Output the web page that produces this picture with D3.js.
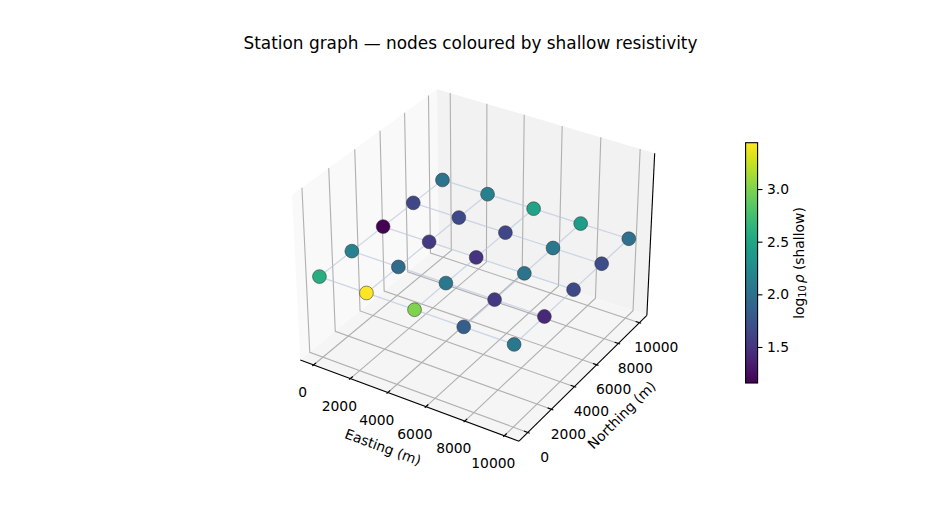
<!DOCTYPE html>
<html>
<head>
<meta charset="utf-8">
<script src="https://cdn.jsdelivr.net/npm/d3@7/dist/d3.min.js"></script>
<style>
  html, body { margin: 0; padding: 0; background: #fff; }
  svg { display: block; }
  text { font-family: "DejaVu Sans", sans-serif; fill: #000; }
</style>
</head>
<body>
<svg id="chart" width="950" height="520"></svg>
<script>
// Station positions along each horizontal direction (m)
const eastings = [0, 2500, 5000, 7500, 10000];
const northings = [0, 2500, 5000, 7500, 10000];
// log10 resistivity per station: one row per northing, one column per easting
const logRho = [
  [2.60, 3.44, 3.00, 1.83, 2.07],
  [2.16, 1.96, 2.07, 1.55, 1.42],
  [1.16, 1.55, 1.50, 2.03, 1.66],
  [1.64, 1.66, 1.64, 2.07, 1.68],
  [2.03, 2.14, 2.48, 2.42, 2.00]
];
const xTicks = [0, 2000, 4000, 6000, 8000, 10000];
const yTicks = [0, 2000, 4000, 6000, 8000, 10000];
const colorTicks = [1.5, 2.0, 2.5, 3.0];
const colorDomain = [1.158, 3.44];
const titleText = "Station graph \u2014 nodes coloured by shallow resistivity";

// Axis limits carry the 5% margin plus the usual 3D padding
const xLim = [-729, 10729];
const yLim = [-729, 10729];
const zLim = [-0.055, 0.055];

// Perspective camera
const elev = 32 * Math.PI / 180, azim = -58 * Math.PI / 180, dist = 10;
const box = [1.143, 1.143, 0.857];
const n = [Math.cos(elev) * Math.cos(azim), Math.cos(elev) * Math.sin(azim), Math.sin(elev)];
const uLen = Math.hypot(n[0], n[1]);
const u = [-n[1] / uLen, n[0] / uLen, 0];
const v = [
  n[1] * u[2] - n[2] * u[1],
  n[2] * u[0] - n[0] * u[2],
  n[0] * u[1] - n[1] * u[0]
];
const dot = (a, b) => a[0] * b[0] + a[1] * b[1] + a[2] * b[2];

const tx = d3.scaleLinear().domain(xLim).range([-box[0] / 2, box[0] / 2]);
const ty = d3.scaleLinear().domain(yLim).range([-box[1] / 2, box[1] / 2]);
const tz = d3.scaleLinear().domain(zLim).range([-box[2] / 2, box[2] / 2]);
const screenX = d3.scaleLinear().domain([-0.1, 0.1]).range([251.2, 701.2]);
const screenY = d3.scaleLinear().domain([-0.1, 0.1]).range([482.4, 32.4]);

function project(x, y, z) {
  const p = [tx(x), ty(y), tz(z)];
  const f = 1 / (dist - dot(n, p));
  return [screenX(dot(u, p) * f), screenY(dot(v, p) * f)];
}

const line3 = d3.line();
const svg = d3.select("#chart");
const viridis = d3.scaleSequential(d3.interpolateViridis).domain(colorDomain);
const labelSize = 13.89, lineWidth = 1.11;

// Back panes and floor
const [x0, x1] = xLim, [y0, y1] = yLim, [z0, z1] = zLim;
const panes = [
  { pts: [[x0, y0, z0], [x0, y1, z0], [x0, y1, z1], [x0, y0, z1]], fill: "#f9f9f9" },
  { pts: [[x0, y1, z0], [x1, y1, z0], [x1, y1, z1], [x0, y1, z1]], fill: "#f2f2f2" },
  { pts: [[x0, y0, z0], [x1, y0, z0], [x1, y1, z0], [x0, y1, z0]], fill: "#f5f5f5" }
];
svg.append("g").selectAll("path").data(panes).join("path")
  .attr("d", d => line3(d.pts.map(p => project(...p))) + "Z")
  .attr("fill", d => d.fill);

// Grid lines: each tick runs across the floor and up its back wall
const grid = svg.append("g").attr("fill", "none").attr("stroke", "#b0b0b0").attr("stroke-width", lineWidth);
xTicks.forEach(t => grid.append("path")
  .attr("d", line3([[t, y0, z0], [t, y1, z0], [t, y1, z1]].map(p => project(...p)))));
yTicks.forEach(t => grid.append("path")
  .attr("d", line3([[x1, t, z0], [x0, t, z0], [x0, t, z1]].map(p => project(...p)))));

// Axis lines
const axes = svg.append("g").attr("fill", "none").attr("stroke", "#000").attr("stroke-width", lineWidth);
[
  [[x0, y0, z0], [x1, y0, z0]],
  [[x1, y0, z0], [x1, y1, z0]],
  [[x1, y1, z0], [x1, y1, z1]]
].forEach(seg => axes.append("path").attr("d", line3(seg.map(p => project(...p)))));

// Tick marks and tick labels
const dy = (y1 - y0) / 12, dx = (x1 - x0) / 12;
const tickLabelStyle = s => s.attr("font-size", labelSize).attr("text-anchor", "middle").attr("dominant-baseline", "central");
xTicks.forEach(t => {
  axes.append("path").attr("d", line3([[t, y0 - dy * 0.1, z0], [t, y0 + dy * 0.2, z0]].map(p => project(...p))));
  const [px, py] = project(t, y0, z0);
  svg.append("text").call(tickLabelStyle).attr("x", px - 11).attr("y", py + 27).text(t);
});
yTicks.forEach(t => {
  axes.append("path").attr("d", line3([[x1 + dx * 0.1, t, z0], [x1 - dx * 0.2, t, z0]].map(p => project(...p))));
  const [px, py] = project(x1, t, z0);
  svg.append("text").call(tickLabelStyle).attr("x", px + 17).attr("y", py + 24.5).text(t);
});

// Axis titles
svg.append("text").attr("font-size", labelSize).attr("text-anchor", "middle").attr("dominant-baseline", "central")
  .attr("transform", "translate(383,447) rotate(20.5)").text("Easting (m)");
svg.append("text").attr("font-size", labelSize).attr("text-anchor", "middle").attr("dominant-baseline", "central")
  .attr("transform", "translate(621.5,415) rotate(-45)").text("Northing (m)");

// Graph edges between neighbouring stations
const edges = svg.append("g").attr("fill", "none").attr("stroke", "#b8c6dc").attr("stroke-opacity", 0.68).attr("stroke-width", 1.25);
northings.forEach((yv, j) => eastings.forEach((xv, i) => {
  if (i < eastings.length - 1)
    edges.append("path").attr("d", line3([project(xv, yv, 0), project(eastings[i + 1], yv, 0)]));
  if (j < northings.length - 1)
    edges.append("path").attr("d", line3([project(xv, yv, 0), project(xv, northings[j + 1], 0)]));
}));

// Station nodes, far ones first
const stations = [];
northings.forEach((yv, j) => eastings.forEach((xv, i) => stations.push({ x: xv, y: yv, value: logRho[j][i] })));
stations.sort((a, b) => b.y - a.y);
svg.append("g").selectAll("circle").data(stations).join("circle")
  .attr("cx", d => project(d.x, d.y, 0)[0])
  .attr("cy", d => project(d.x, d.y, 0)[1])
  .attr("r", 6.9)
  .attr("fill", d => viridis(d.value))
  .attr("stroke", "#333")
  .attr("stroke-width", 0.56);

// Colour bar
const barY = d3.scaleLinear().domain(colorDomain).range([383, 142.7]);
const barLeft = 745.6, barWidth = 12;
const defs = svg.append("defs");
const grad = defs.append("linearGradient").attr("id", "viridisBar")
  .attr("x1", 0).attr("x2", 0).attr("y1", 1).attr("y2", 0);
d3.range(0, 1.0001, 0.05).forEach(t => grad.append("stop")
  .attr("offset", t).attr("stop-color", d3.interpolateViridis(t)));
const bar = svg.append("g");
bar.append("rect").attr("x", barLeft).attr("y", barY(colorDomain[1]))
  .attr("width", barWidth).attr("height", barY(colorDomain[0]) - barY(colorDomain[1]))
  .attr("fill", "url(#viridisBar)").attr("stroke", "#000").attr("stroke-width", lineWidth);
const axisBar = d3.axisRight(barY).tickValues(colorTicks).tickFormat(d3.format(".1f")).tickSize(4.86).tickPadding(4.5);
bar.append("g").attr("transform", `translate(${barLeft + barWidth},0)`).call(axisBar)
  .call(g => g.select(".domain").remove())
  .call(g => g.selectAll("line").attr("stroke", "#000").attr("stroke-width", lineWidth))
  .call(g => g.selectAll("text").attr("font-size", labelSize).attr("font-family", '"DejaVu Sans", sans-serif').attr("fill", "#000"));

const barLabel = svg.append("text").attr("font-size", labelSize).attr("text-anchor", "middle")
  .attr("dominant-baseline", "central").attr("transform", "translate(799,263) rotate(-90)");
barLabel.append("tspan").text("log");
barLabel.append("tspan").attr("font-size", 9.7).attr("dy", 3).text("10");
barLabel.append("tspan").attr("dy", -3).attr("font-style", "italic").attr("dx", 2).text("\u03c1");
barLabel.append("tspan").text(" (shallow)");

// Title
svg.append("text").attr("x", 470.5).attr("y", 43).attr("font-size", 16.9)
  .attr("text-anchor", "middle").attr("dominant-baseline", "central").text(titleText);
</script>
</body>
</html>
